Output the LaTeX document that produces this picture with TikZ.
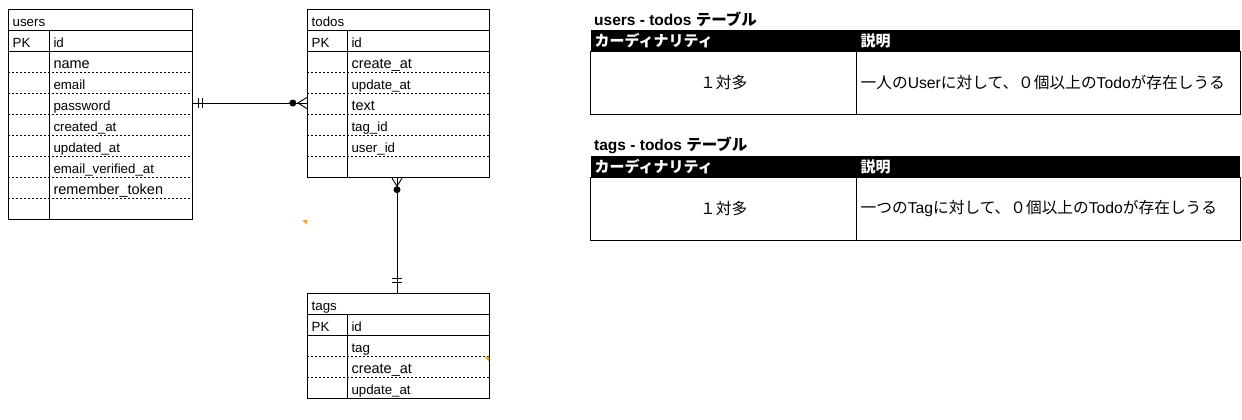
\documentclass[tikz,border=0pt]{standalone}
\usepackage{fontspec}
\setmainfont{Liberation Sans}
\newfontfamily\jp{Noto Sans CJK JP}
\definecolor{corner}{HTML}{F0A830}

\begin{document}
\begin{tikzpicture}[x=1pt, y=-1pt]
\tikzstyle{tbl} = [draw=black, line width=0.9pt, inner sep=0]
\tikzstyle{sln} = [draw=black, line width=0.9pt]
\tikzstyle{dln} = [draw=black, line width=0.8pt, dash pattern=on 2pt off 2pt]
\tikzstyle{fld} = [anchor=base west, inner sep=0, font=\fontsize{13.3}{15}\selectfont]
\tikzstyle{big} = [font=\fontsize{14.5}{16}\selectfont]
\tikzstyle{rel} = [draw=black, line width=0.9pt]
\tikzstyle{ttl} = [anchor=base west, inner sep=0, font=\bfseries\fontsize{15.5}{17}\selectfont]
\tikzstyle{hd} = [fill=black, text=white, inner xsep=4pt, inner ysep=0, minimum height=21.7pt, align=left, font=\jp\bfseries\fontsize{15}{17}\selectfont]
\tikzstyle{cell} = [draw=black, line width=0.9pt, inner xsep=4pt, inner ysep=0, minimum height=62.6pt, font=\jp\fontsize{15.7}{17}\selectfont]

\useasboundingbox (0,0) rectangle (1242,420);

\node[tbl, minimum width=184pt, minimum height=210.4pt](users) at (100.3, 114.5) {};
\draw[sln] (users.west |- 0,30.7) -- (users.east |- 0,30.7);
\draw[sln] (users.west |- 0,51.7) -- (users.east |- 0,51.7);
\draw[sln] (49.3,30.7) -- (49.3,0 |- users.south);
\foreach \y in {72.7, 93.7, 114.7, 135.7, 156.7, 177.7, 198.7}
  \draw[dln] (users.west |- 0,\y) -- (users.east |- 0,\y);
\node[fld](u-title) at (12.5, 26.7) {users};
\node[fld](u-pk) at (12.5, 47.5) {PK};
\node[fld](u-id) at (53.3, 47.5) {id};
\node[fld, big](u-name) at (53.3, 68.2) {name};
\node[fld](u-email) at (53.3, 89.2) {email};
\node[fld](u-password) at (53.3, 110.2) {password};
\node[fld](u-created) at (53.3, 131.2) {created\_at};
\node[fld](u-updated) at (53.3, 152.2) {updated\_at};
\node[fld](u-verified) at (53.3, 173.2) {email\_verified\_at};
\node[fld, big](u-token) at (53.3, 194.2) {remember\_token};

\node[tbl, minimum width=182pt, minimum height=168.4pt](todos) at (398.3, 93.5) {};
\draw[sln] (todos.west |- 0,30.7) -- (todos.east |- 0,30.7);
\draw[sln] (todos.west |- 0,51.7) -- (todos.east |- 0,51.7);
\draw[sln] (347.3,30.7) -- (347.3,0 |- todos.south);
\foreach \y in {72.7, 93.7, 114.7, 135.7, 156.7}
  \draw[dln] (todos.west |- 0,\y) -- (todos.east |- 0,\y);
\node[fld](t-title) at (311.5, 26.7) {todos};
\node[fld](t-pk) at (311.5, 47.5) {PK};
\node[fld](t-id) at (351.3, 47.5) {id};
\node[fld, big](t-create) at (351.3, 68.2) {create\_at};
\node[fld](t-update) at (351.3, 89.2) {update\_at};
\node[fld, big](t-text) at (351.3, 110.2) {text};
\node[fld](t-tag) at (351.3, 131.2) {tag\_id};
\node[fld](t-user) at (351.3, 152.2) {user\_id};

\node[tbl, minimum width=182pt, minimum height=105pt](tags) at (398.3, 345.8) {};
\draw[sln] (tags.west |- 0,314.3) -- (tags.east |- 0,314.3);
\draw[sln] (tags.west |- 0,335.3) -- (tags.east |- 0,335.3);
\draw[sln] (347.3,314.3) -- (347.3,0 |- tags.south);
\foreach \y in {356.3, 377.3}
  \draw[dln] (tags.west |- 0,\y) -- (tags.east |- 0,\y);
\node[fld](g-title) at (311.5, 310.3) {tags};
\node[fld](g-pk) at (311.5, 331.1) {PK};
\node[fld](g-id) at (351.3, 331.1) {id};
\node[fld](g-tag) at (351.3, 352.1) {tag};
\node[fld, big](g-create) at (351.3, 373.1) {create\_at};
\node[fld](g-update) at (351.3, 394.1) {update\_at};

\coordinate (ut) at (0, 103);
\coordinate (ua) at (users.east |- ut);
\coordinate (tb) at (todos.west |- ut);
\draw[rel] (ua) -- (tb);
\draw[rel] ([xshift=6pt]ua) ++(0,-5) -- ++(0,10);
\draw[rel] ([xshift=10pt]ua) ++(0,-5) -- ++(0,10);
\fill ([xshift=-14pt]tb) circle (3.5pt);
\draw[rel] ([xshift=-9pt]tb) -- ++(9,-5.5) ([xshift=-9pt]tb) -- ++(9,5.5);

\coordinate (tt) at (397, 0);
\coordinate (ta) at (todos.south -| tt);
\coordinate (gb) at (tags.north -| tt);
\draw[rel] (ta) -- (gb);
\draw[rel] ([yshift=-8pt]ta) -- ++(-5,-8) ([yshift=-8pt]ta) -- ++(5,-8);
\fill ([yshift=-11.5pt]ta) circle (3.5pt);
\draw[rel] ([yshift=10pt]gb) ++(-5,0) -- ++(10,0);
\draw[rel] ([yshift=14pt]gb) ++(-5,0) -- ++(10,0);

\fill[corner] (302,220) -- (307,220) -- (307,225) -- cycle;
\fill[corner] (484,356.5) -- (489,356.5) -- (489,361.5) -- cycle;

\node[ttl](ut-title) at (594, 25.7) {users - todos {\jp テーブル}};
\node[hd, text width=258pt](ut-ch) at (723.7, 40.85) {カーディナリティ};
\node[hd, text width=375.3pt](ut-dh) at (1048.35, 40.85) {説明};
\node[cell, text width=258pt, align=center](ut-c) at (723.7, 83) {１対多};
\node[cell, text width=375.3pt, align=left](ut-d) at (1048.35, 83) {一人の{\rmfamily User}に対して、０個以上の{\rmfamily Todo}が存在しうる};

\node[ttl](gt-title) at (594, 150.7) {tags - todos {\jp テーブル}};
\node[hd, text width=258pt](gt-ch) at (723.7, 167) {カーディナリティ};
\node[hd, text width=375.3pt](gt-dh) at (1048.35, 167) {説明};
\node[cell, text width=258pt, align=center](gt-c) at (723.7, 208.65) {１対多};
\node[cell, text width=375.3pt, align=left](gt-d) at (1048.35, 208.65) {一つの{\rmfamily Tag}に対して、０個以上の{\rmfamily Todo}が存在しうる};
\end{tikzpicture}
\end{document}
